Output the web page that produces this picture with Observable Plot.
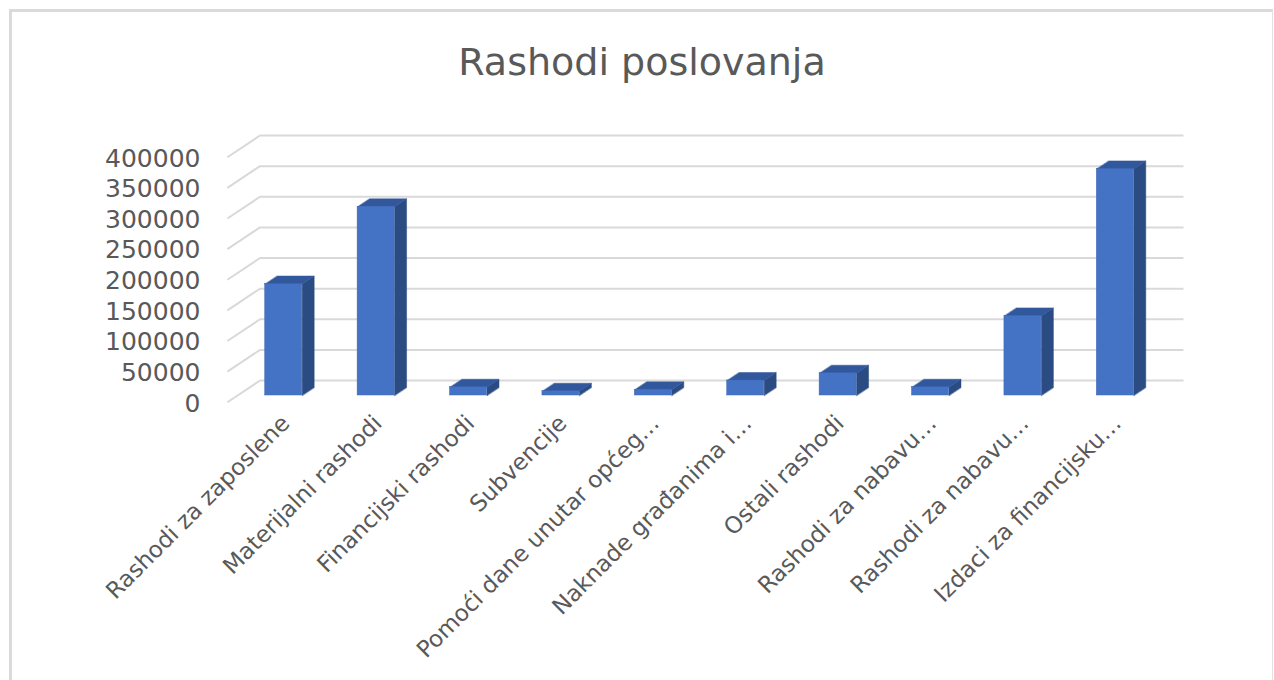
<!DOCTYPE html>
<html>
<head>
<meta charset="utf-8">
<script src="https://cdn.jsdelivr.net/npm/d3@7"></script>
<script src="https://cdn.jsdelivr.net/npm/@observablehq/plot@0.6"></script>
<style>
html, body { margin: 0; padding: 0; background: #fff; overflow: hidden; }
#wrap { position: relative; width: 1274px; height: 680px; }
#frame { position: absolute; left: 9px; top: 9px; width: 1260px; height: 720px;
  border-left: 3px solid #dadada; border-top: 3px solid #dadada; border-right: 1px solid #e3e3e3; }
#title { position: absolute; left: 10px; width: 1264px; top: 43px; text-align: center;
  font-family: "DejaVu Sans"; font-size: 38px; line-height: 38px; color: #595959; }
#chart { position: absolute; left: 0; top: 0; }
</style>
</head>
<body>
<div id="wrap">
  <div id="frame"></div>
  <div id="title">Rashodi poslovanja</div>
  <div id="chart"></div>
</div>
<script>
// ---- data ----
const categories = [
  "Rashodi za zaposlene",
  "Materijalni rashodi",
  "Financijski rashodi",
  "Subvencije",
  "Pomoći dane unutar općeg…",
  "Naknade građanima i…",
  "Ostali rashodi",
  "Rashodi za nabavu…",
  "Rashodi za nabavu…",
  "Izdaci za financijsku…"
];
const values = [182000, 308000, 13500, 7000, 9300, 24500, 36400, 13500, 130000, 370000];
const yTicks = [0, 50000, 100000, 150000, 200000, 250000, 300000, 350000, 400000];

// ---- layout ----
const W = 1274, H = 680, mL = 237, mR = 113, mT = 150, mB = 285;
const xDomain = [-0.5, categories.length - 0.5];
const yDomain = [0, 400000];
const kx = (W - mL - mR) / (xDomain[1] - xDomain[0]);
const ky = (H - mT - mB) / (yDomain[1] - yDomain[0]);
const px = p => p / kx, py = p => p / ky;
const barHalf = 0.2;
const barDepth = [12, 8];      // pixels right / up
const wallDepth = [32.6, 21.7];
const plane = 0.31;            // bar plane position inside the wall depth
const wf = [-plane * wallDepth[0], -plane * wallDepth[1]];
const wb = [(1 - plane) * wallDepth[0], (1 - plane) * wallDepth[1]];

const colFront = "#4472C4", colSide = "#2B4B83", colTop = "#31579C";

const bars = values.map((v, i) => ({i, v}));
const faces = [];
bars.forEach(({i, v}) => {
  const l = i - barHalf, r = i + barHalf, dx = px(barDepth[0]), dy = py(barDepth[1]);
  [[r, 0], [r, v], [r + dx, v + dy], [r + dx, dy]].forEach(([x, y]) => faces.push({id: "s" + i, face: "side", x, y}));
  [[l, v], [r, v], [r + dx, v + dy], [l + dx, v + dy]].forEach(([x, y]) => faces.push({id: "t" + i, face: "top", x, y}));
});

const chart = Plot.plot({
  width: W, height: H,
  marginLeft: mL, marginRight: mR, marginTop: mT, marginBottom: mB,
  style: {fontFamily: "DejaVu Sans", background: "transparent", overflow: "visible"},
  x: {type: "linear", domain: xDomain},
  y: {type: "linear", domain: yDomain},
  marks: [
    Plot.ruleY(yTicks, {
      y: t => t + py(wb[1]),
      x1: xDomain[0] + px(wb[0]), x2: xDomain[1] + px(wb[0]),
      stroke: "#d9d9d9", strokeWidth: 2
    }),
    Plot.link(yTicks, {
      x1: xDomain[0] + px(wf[0]), y1: t => t + py(wf[1]),
      x2: xDomain[0] + px(wb[0]), y2: t => t + py(wb[1]),
      stroke: "#d9d9d9", strokeWidth: 2
    }),
    Plot.line(faces.filter(d => d.face === "side"), {
      x: "x", y: "y", z: "id", curve: "linear-closed", fill: colSide, stroke: colSide, strokeWidth: 0.5
    }),
    Plot.line(faces.filter(d => d.face === "top"), {
      x: "x", y: "y", z: "id", curve: "linear-closed", fill: colTop, stroke: colTop, strokeWidth: 0.5
    }),
    Plot.rectY(bars, {
      x1: d => d.i - barHalf, x2: d => d.i + barHalf, y1: 0, y2: "v",
      fill: colFront, stroke: "#3f69b5", strokeWidth: 0.5
    }),
    Plot.axisY({
      ticks: yTicks, tickFormat: d3.format("d"), tickSize: 0, tickPadding: 37, dy: 8,
      fontSize: 25, fill: "#595959", label: null
    }),
    Plot.axisX({
      ticks: d3.range(categories.length), tickFormat: i => categories[i],
      tickRotate: -45, textAnchor: "end", lineAnchor: "middle",
      tickSize: 0, tickPadding: 24, dx: 2,
      fontSize: 23, fill: "#595959", label: null
    })
  ]
});
document.getElementById("chart").appendChild(chart);
</script>
</body>
</html>
